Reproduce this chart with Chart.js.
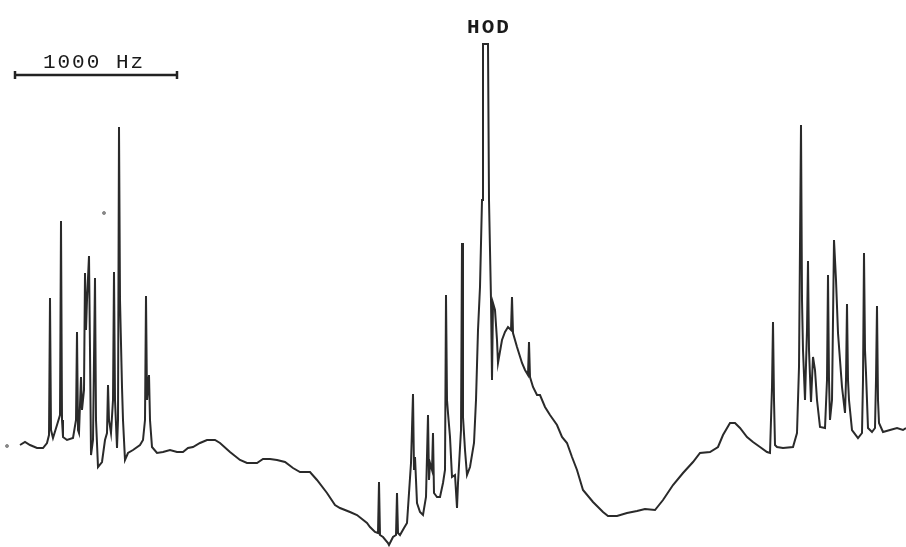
<!DOCTYPE html>
<html>
<head>
<meta charset="utf-8">
<script src="https://cdn.jsdelivr.net/npm/chart.js@4/dist/chart.umd.min.js"></script>
<style>
  html, body { margin: 0; padding: 0; background: #ffffff; }
  #wrap { width: 906px; height: 547px; }
</style>
</head>
<body>
<div id="wrap"><canvas id="c" width="906" height="547"></canvas></div>
<script>
// Spectrum trace (position along sweep, signal intensity, arbitrary units)
const leftX = [20,25,30,37,43,47,49,50,51,53,57,60,61,62,63,67,73,76,77,78,79,81,82,84,85,86,87,89,90,91,93,95,96,98,102,105,107,108,109,111,113,114,115,117,118,119,120,122,123,125,128,133,140,143,145,146,147,149,150,152,157,163];
const leftY = [102,105,102,99,99,104,112,249,117,109,122,132,326,127,110,107,109,127,215,117,114,170,137,157,274,217,247,291,197,92,107,269,127,80,85,107,114,162,127,114,147,275,147,99,127,420,247,160,127,87,94,97,102,107,127,251,147,172,127,100,94,95];

const valley1X = [170,177,183,188,193,200,207,215,220,230,240,247,257,263,270,277,285,293,300,310,317,327,335,340,350,357,367,370,375,378];
const valley1Y = [97,95,95,99,100,104,107,107,104,95,87,84,84,88,88,87,85,79,75,75,67,54,42,39,35,32,24,20,15,14];

const centerX = [379,380,383,388,389,393,396,397,398,400,404,407,411,413,414,415,417,420,423,426,428,429,430,432,433,434,437,440,443,445,446,447,448,450,452,455,457,458,461,462,463,465,467,470,474,476,478,480,482,483,488,489,491,492,493,495,497,498,502,505,508,511,512,513,517,522,525,528,529,530,533,537,540];
const centerY = [65,12,10,4,2,10,12,54,14,12,19,24,84,153,77,90,44,35,32,50,132,67,84,77,114,54,50,50,64,77,252,147,134,110,70,72,39,64,117,304,130,97,72,80,104,147,217,260,347,503,503,347,247,167,244,237,207,184,207,215,220,217,250,214,200,184,177,172,205,170,160,152,152];

const valley2X = [545,550,557,562,567,572,577,583,593,603,608,617,627,637,645,655,663,673,683,693,700,710,718,723,730,735,740,747,753,760,767,770];
const valley2Y = [140,132,122,110,104,90,77,57,45,35,31,31,34,36,38,37,47,62,74,85,94,95,100,112,124,124,119,110,105,100,95,94];

const rightX = [771,772,773,774,775,777,783,793,797,799,801,802,803,805,807,808,809,811,813,815,817,820,825,827,828,829,830,832,834,836,838,842,845,846,847,848,849,852,858,862,863,864,865,866,868,872,875,876,877,878,879,883,890,897,903,906];
const rightY = [127,160,225,147,102,100,99,100,114,180,422,247,197,147,217,286,197,145,190,177,147,120,119,167,272,167,127,147,307,267,214,160,134,167,243,167,147,117,109,114,167,294,197,174,119,115,119,167,241,147,124,115,117,119,117,119];

// 1000 Hz scale bar (ends) and label level
const scaleBarX = [15, 177];
const scaleBarY = [472, 472];
const scaleBarLabel = "1000 Hz";
const peakLabel = "HOD";
const peakLabelPos = [489, 519];
const scaleLabelPos = [94, 485];

// stray specks on the paper
const specksX = [7, 104];
const specksY = [101, 334];

function pairs(xs, ys) { return xs.map((x, i) => ({ x: x, y: ys[i] })); }

const trace = [].concat(
  pairs(leftX, leftY),
  pairs(valley1X, valley1Y),
  pairs(centerX, centerY),
  pairs(valley2X, valley2Y),
  pairs(rightX, rightY)
);

const labelPlugin = {
  id: 'labels',
  afterDatasetsDraw(chart) {
    const ctx = chart.ctx;
    const xs = chart.scales.x, ys = chart.scales.y;
    ctx.save();
    ctx.fillStyle = '#1a1a1a';
    ctx.textAlign = 'center';
    ctx.textBaseline = 'middle';
    ctx.font = '21px "Liberation Mono", "DejaVu Sans Mono", monospace';
    try { ctx.letterSpacing = '2px'; } catch (e) {}
    ctx.fillText(scaleBarLabel, xs.getPixelForValue(scaleLabelPos[0]), ys.getPixelForValue(scaleLabelPos[1]));
    ctx.font = 'bold 21px "Liberation Mono", "DejaVu Sans Mono", monospace';
    try { ctx.letterSpacing = '2px'; } catch (e) {}
    ctx.fillText(peakLabel, xs.getPixelForValue(peakLabelPos[0]), ys.getPixelForValue(peakLabelPos[1]));
    ctx.restore();
  }
};

new Chart(document.getElementById('c'), {
  type: 'line',
  data: {
    datasets: [
      {
        label: 'spectrum',
        data: trace,
        borderColor: '#2a2a2a',
        borderWidth: 2,
        pointRadius: 0,
        tension: 0,
        fill: false
      },
      {
        label: 'scale bar',
        data: pairs(scaleBarX, scaleBarY),
        borderColor: '#222',
        borderWidth: 2.5,
        pointStyle: 'line',
        rotation: 90,
        pointRadius: 4,
        pointBorderWidth: 2.5,
        pointBorderColor: '#222',
        tension: 0
      },
      {
        label: 'specks',
        type: 'scatter',
        data: pairs(specksX, specksY),
        pointRadius: 1.5,
        pointBackgroundColor: '#888',
        pointBorderColor: '#888',
        showLine: false
      }
    ]
  },
  options: {
    responsive: false,
    animation: false,
    layout: { padding: 0, autoPadding: false },
    plugins: { legend: { display: false }, tooltip: { enabled: false } },
    scales: {
      x: { type: 'linear', min: 0, max: 906, display: false },
      y: { type: 'linear', min: 0, max: 547, display: false }
    }
  },
  plugins: [labelPlugin]
});
</script>
</body>
</html>
